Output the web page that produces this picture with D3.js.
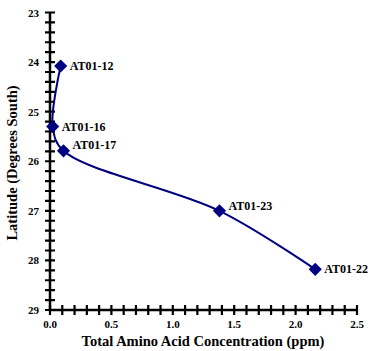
<!DOCTYPE html>
<html><head><meta charset="utf-8">
<script src="https://cdn.jsdelivr.net/npm/d3@7"></script>
<style>body{margin:0;background:#fff}svg{display:block}</style>
</head><body><svg id="c" width="368" height="351" font-family="'Liberation Serif', 'DejaVu Serif', serif" font-weight="bold"></svg>
<script>
const samples = ["AT01-12","AT01-16","AT01-17","AT01-23","AT01-22"];
const concentration = [0.087, 0.022, 0.11, 1.38, 2.16];
const latitude = [24.08, 25.30, 25.79, 27.0, 28.18];
const xTicks = [0, 0.5, 1.0, 1.5, 2.0, 2.5];
const yTicks = [23, 24, 25, 26, 27, 28, 29];

const svg = d3.select("#c");
const x = d3.scaleLinear().domain([0, 2.5]).range([50, 357]);
const y = d3.scaleLinear().domain([23, 29]).range([12.5, 310]);
const col = "#000080";

const ym = d3.range(0, 31).map(i => 23 + i * 0.2);
const xm = d3.range(0, 26).map(i => i * 0.1);

// minor tick marks crossing the axes, drawn as one path each
const yTickPath = ym.map(v => `M${x(0) - 5},${y(v)}H${x(0) + 5}`).join("");
const xTickPath = xm.map(v => `M${x(v)},${y(29) - 5}V${y(29) + 5}`).join("");
svg.append("path").attr("d", yTickPath + xTickPath)
  .attr("fill", "none").attr("stroke", "#000").attr("stroke-width", 2.2);

svg.append("path").attr("d", `M${x(0)},${y(23)}V${y(29)}H${x(2.5)}`)
  .attr("fill", "none").attr("stroke", "#000").attr("stroke-width", 2.5);

svg.selectAll("text.yl").data(yTicks).enter().append("text").attr("class","yl")
  .attr("x", 39).attr("y", d => y(d) + 4).attr("text-anchor","end")
  .attr("font-size", 11).text(d => d);
svg.selectAll("text.xl").data(xTicks).enter().append("text").attr("class","xl")
  .attr("x", d => x(d)).attr("y", 328).attr("text-anchor","middle")
  .attr("font-size", 11).text(d => d.toFixed(1));

svg.append("text").attr("x", 203).attr("y", 346).attr("text-anchor","middle")
  .attr("font-size", 14.5).text("Total Amino Acid Concentration (ppm)");
svg.append("text").attr("transform","translate(17,163) rotate(-90)").attr("text-anchor","middle")
  .attr("font-size", 14.5).text("Latitude (Degrees South)");

const pts = samples.map((s,i) => ({s, c: concentration[i], l: latitude[i]}));
const sorted = pts.slice().sort((a,b) => a.l - b.l);
svg.append("path").datum(sorted)
  .attr("d", d3.line().x(d => x(d.c)).y(d => y(d.l)).curve(d3.curveCatmullRom.alpha(0.5)))
  .attr("fill","none").attr("stroke", col).attr("stroke-width", 2);

const sym = d3.symbol().type(d3.symbolDiamond2).size(110);
svg.selectAll("path.m").data(pts).enter().append("path").attr("class","m")
  .attr("d", sym).attr("transform", d => `translate(${x(d.c)},${y(d.l)})`).attr("fill", col);

const dy = {"AT01-12": 4, "AT01-16": 4, "AT01-17": -2, "AT01-23": -1, "AT01-22": 4};
svg.selectAll("text.lab").data(pts).enter().append("text").attr("class","lab")
  .attr("x", d => x(d.c) + 9).attr("y", d => y(d.l) + dy[d.s])
  .attr("font-size", 12).text(d => d.s);
</script></body></html>
